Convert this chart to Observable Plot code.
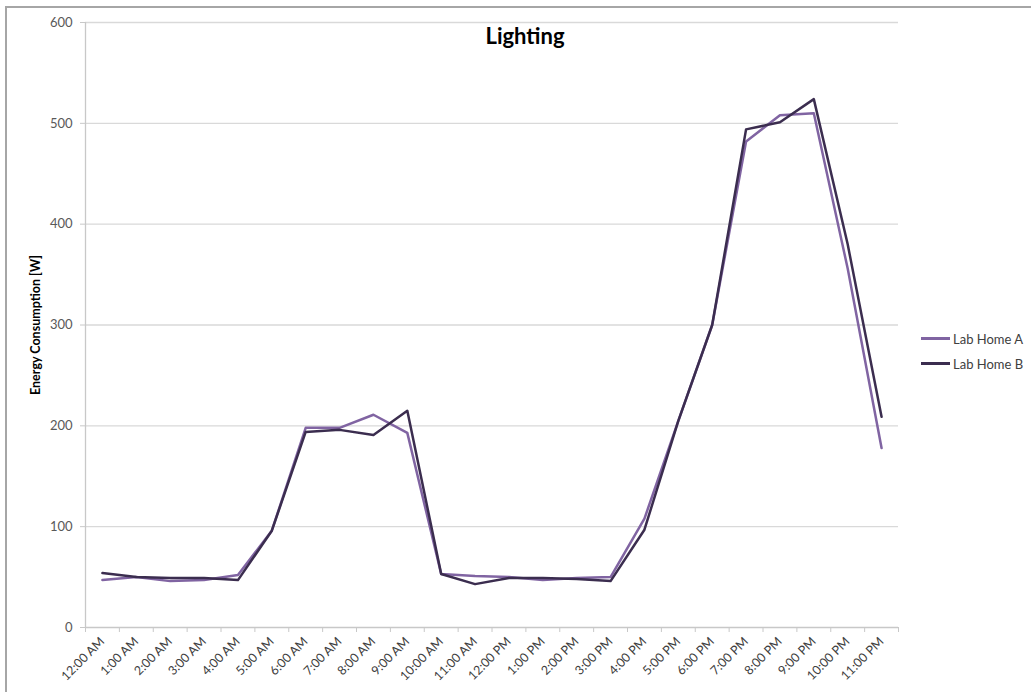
<!DOCTYPE html>
<html>
<head>
<meta charset="utf-8">
<script src="https://cdn.jsdelivr.net/npm/d3@7"></script>
<script src="https://cdn.jsdelivr.net/npm/@observablehq/plot@0.6"></script>
<style>
  html, body { margin: 0; padding: 0; background: #fff; overflow: hidden; }
  #wrap { position: relative; width: 1031px; height: 692px; }
  #border { position: absolute; left: 5px; top: 6px; width: 1100px; height: 800px; border-left: 2px solid #a6a6a6; border-top: 2px solid #a6a6a6; pointer-events: none; }
  #chart { position: absolute; left: 0; top: 0; }
  #legend { position: absolute; left: 921px; top: 326px; font-family: Lato, sans-serif; font-size: 13px; color: #404040; }
  .item { display: flex; align-items: center; height: 25px; }
  .sw { width: 29px; height: 3px; margin-right: 3px; }
</style>
</head>
<body>
<div id="wrap">
  <div id="border"></div>
  <div id="chart"></div>
  <div id="legend"></div>
</div>
<script>
const hours = ["12:00 AM","1:00 AM","2:00 AM","3:00 AM","4:00 AM","5:00 AM","6:00 AM","7:00 AM","8:00 AM","9:00 AM","10:00 AM","11:00 AM","12:00 PM","1:00 PM","2:00 PM","3:00 PM","4:00 PM","5:00 PM","6:00 PM","7:00 PM","8:00 PM","9:00 PM","10:00 PM","11:00 PM"];
const labHomeA = [47, 50, 46, 47, 52, 96, 198, 198, 211, 193, 53, 51, 50, 47, 49, 50, 108, 205, 300, 482, 508, 510, 356, 178];
const labHomeB = [54, 50, 49, 49, 47, 96, 194, 196, 191, 215, 53, 43, 49, 49, 48, 46, 97, 205, 300, 494, 501, 524, 380, 209];
const seriesNames = ["Lab Home A", "Lab Home B"];
const seriesColors = ["#8064A2", "#3B2D4F"];
const yTicks = [0, 100, 200, 300, 400, 500, 600];
const title = "Lighting";
const yLabel = "Energy Consumption [W]";

const data = hours.flatMap((h, i) => [
  {i, hour: h, value: labHomeA[i], series: seriesNames[0]},
  {i, hour: h, value: labHomeB[i], series: seriesNames[1]}
]);
const boundaries = d3.range(-0.5, hours.length);
const centers = d3.range(hours.length);

const chart = Plot.plot({
  width: 1031,
  height: 692,
  marginLeft: 85,
  marginRight: 133,
  marginTop: 22,
  marginBottom: 65,
  style: {fontFamily: "Lato, sans-serif", background: "transparent", overflow: "visible"},
  x: {type: "linear", domain: [-0.5, hours.length - 0.5]},
  y: {domain: [0, 600]},
  color: {domain: seriesNames, range: seriesColors},
  marks: [
    Plot.gridY(yTicks.slice(1), {stroke: "#d9d9d9", strokeOpacity: 1, strokeWidth: 1.3}),
    Plot.ruleY([0], {stroke: "#c8c8c8", strokeWidth: 1.3}),
    Plot.ruleX([-0.5], {stroke: "#c8c8c8", strokeWidth: 1.3}),
    Plot.axisY(yTicks, {tickSize: 5, tickPadding: 8, fontSize: 13, fill: "#595959", stroke: "#c8c8c8", label: null}),
    Plot.axisX(boundaries, {tickSize: 5, tickFormat: () => "", stroke: "#c8c8c8", label: null}),
    Plot.axisX(centers, {tickSize: 0, tickPadding: 12, tickRotate: -45, fontSize: 12.5, fill: "#404040", tickFormat: i => hours[i], label: null}),
    Plot.line(data, {x: "i", y: "value", z: "series", stroke: "series", strokeWidth: 2.5}),
    Plot.text([title], {frameAnchor: "top", dx: 33, dy: 6, fontSize: 22, fontWeight: "bold", fill: "#000"}),
    Plot.text([yLabel], {frameAnchor: "left", textAnchor: "middle", dx: -50, rotate: -90, fontSize: 12.5, fontWeight: "bold", fill: "#000"})
  ]
});
document.getElementById("chart").appendChild(chart);

const legend = document.getElementById("legend");
seriesNames.forEach((name, k) => {
  const item = document.createElement("div");
  item.className = "item";
  const sw = document.createElement("div");
  sw.className = "sw";
  sw.style.background = seriesColors[k];
  const label = document.createElement("span");
  label.textContent = name;
  item.appendChild(sw);
  item.appendChild(label);
  legend.appendChild(item);
});
</script>
</body>
</html>
